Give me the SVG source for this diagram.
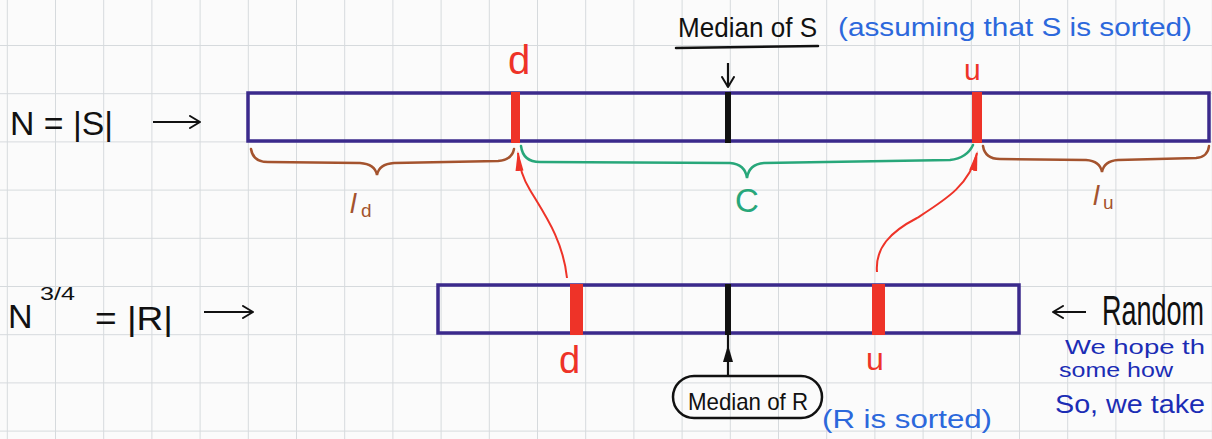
<svg xmlns="http://www.w3.org/2000/svg" width="1212" height="439" viewBox="0 0 1212 439">
<defs>
<pattern id="grid" x="6.8" y="-3.2" width="48.2" height="48.2" patternUnits="userSpaceOnUse">
<path d="M0,0 H48.2 M0,0 V48.2" fill="none" stroke="#d6dadd" stroke-width="2"/>
</pattern>
<marker id="redHead" markerWidth="20" markerHeight="10" refX="18" refY="4" orient="auto" markerUnits="userSpaceOnUse">
<path d="M0,0 L20,4 L0,8 Z" fill="#ee3328"/>
</marker>
<marker id="openHead" markerWidth="14" markerHeight="14" refX="11" refY="7" orient="auto" markerUnits="userSpaceOnUse">
<path d="M1,1 L11,7 L1,13" fill="none" stroke="#111" stroke-width="2" stroke-linecap="round" stroke-linejoin="round"/>
</marker>
</defs>
<style>
.arr{fill:none;stroke:#3b2a8c;stroke-width:3.5}
.red{fill:#ee3328}
.blk{fill:#111}
.txt{font-family:"Liberation Sans",Arial,sans-serif;fill:#111}
.rtxt{font-family:"Liberation Sans",Arial,sans-serif;fill:#ee3328}
.btxt{font-family:"Liberation Sans",Arial,sans-serif;fill:#2c68dc}
.ntxt{font-family:"Liberation Sans",Arial,sans-serif;fill:#1b2db5}
.brown{fill:none;stroke:#a4532e;stroke-width:2.5;stroke-linecap:round}
.green{fill:none;stroke:#28a77a;stroke-width:2.5;stroke-linecap:round}
.redline{fill:none;stroke:#ee3328;stroke-width:2;marker-end:url(#redHead)}
.bline{fill:none;stroke:#111;stroke-width:2.2}
</style>
<rect width="1212" height="439" fill="#fbfbfb"/>
<rect width="1212" height="439" fill="url(#grid)"/>

<g id="label-S" class="txt">
<text x="10" y="135" font-size="34" textLength="103" lengthAdjust="spacingAndGlyphs">N = |S|</text>
</g>
<g id="label-R" class="txt">
<text x="8" y="328" font-size="34">N</text>
<text x="40" y="300" font-size="18" textLength="35" lengthAdjust="spacingAndGlyphs">3/4</text>
<text x="95" y="330" font-size="34" textLength="78" lengthAdjust="spacingAndGlyphs">= |R|</text>
</g>

<g id="array-S">
<rect class="arr" x="248" y="93" width="961" height="48"/>
<rect class="red" x="511" y="92" width="9" height="51"/>
<rect class="blk" x="725" y="92" width="6" height="51"/>
<rect class="red" x="972" y="92" width="10" height="51"/>
<text class="rtxt" x="508" y="74" font-size="40">d</text>
<text class="rtxt" x="964" y="80" font-size="30">u</text>
</g>

<g id="median-S">
<text class="txt" x="678" y="37" font-size="28" textLength="139" lengthAdjust="spacingAndGlyphs">Median of S</text>
<line x1="676" y1="48" x2="818" y2="46" stroke="#111" stroke-width="2.5" stroke-linecap="round"/>
<text class="btxt" x="838" y="36" font-size="25" textLength="354" lengthAdjust="spacingAndGlyphs">(assuming that S is sorted)</text>
</g>

<g id="array-R">
<rect class="arr" x="438" y="285" width="581" height="48"/>
<rect class="red" x="570" y="284" width="13" height="51"/>
<rect class="blk" x="725" y="284" width="6" height="51"/>
<rect class="red" x="872" y="284" width="13" height="51"/>
<text class="rtxt" x="559" y="373" font-size="38">d</text>
<text class="rtxt" x="866" y="370" font-size="32">u</text>
</g>

<g id="median-R">
<rect x="673" y="376" width="149" height="42" rx="21" fill="none" stroke="#111" stroke-width="2.5"/>
<text class="txt" x="688" y="410" font-size="24" textLength="120" lengthAdjust="spacingAndGlyphs">Median of R</text>
<text class="btxt" x="822" y="428" font-size="26" textLength="170" lengthAdjust="spacingAndGlyphs">(R is sorted)</text>
</g>

<g id="brace-ld">
<path class="brown" d="M251,149 Q253,162 268,162 L360,163 Q375,164 377,175 Q379,164 394,163 L498,161 Q512,160 514,149"/>
<text x="350" y="213" font-size="28" font-style="italic" font-family="Liberation Sans,Arial,sans-serif" fill="#a4532e">l</text>
<text x="361" y="217" font-size="19" font-family="Liberation Sans,Arial,sans-serif" fill="#a4532e">d</text>
</g>

<g id="brace-c">
<path class="green" d="M521,146 Q523,162 540,162 L730,163 Q745,164 747,178 Q749,164 764,163 L950,160 Q967,158 973,145"/>
<text x="735" y="212" font-size="33" font-family="Liberation Sans,Arial,sans-serif" fill="#28a77a">C</text>
</g>

<g id="brace-lu">
<path class="brown" d="M983,146 Q985,159 1000,159 L1086,160 Q1100,161 1102,172 Q1104,161 1118,160 L1196,158 Q1208,157 1209,146"/>
<text x="1093" y="205" font-size="28" font-style="italic" font-family="Liberation Sans,Arial,sans-serif" fill="#a4532e">l</text>
<text x="1103" y="209" font-size="19" font-family="Liberation Sans,Arial,sans-serif" fill="#a4532e">u</text>
</g>

<g id="random-note">
<text class="txt" x="1102" y="203" font-size="27" transform="scale(1,1.6)">Random</text>
<text class="ntxt" x="1065" y="354" font-size="20" textLength="140" lengthAdjust="spacingAndGlyphs">We hope th</text>
<text class="ntxt" x="1059" y="377" font-size="20" textLength="114" lengthAdjust="spacingAndGlyphs">some how</text>
<text class="ntxt" x="1055" y="413" font-size="26" textLength="150" lengthAdjust="spacingAndGlyphs">So, we take</text>
</g>

<g id="connectors">
<line class="bline" x1="153" y1="122" x2="200" y2="122" marker-end="url(#openHead)"/>
<line class="bline" x1="204" y1="312" x2="253" y2="312" marker-end="url(#openHead)"/>
<line class="bline" x1="1086" y1="312" x2="1053" y2="312" marker-end="url(#openHead)"/>
<line class="bline" x1="728" y1="63" x2="728" y2="87" marker-end="url(#openHead)"/>
<line class="bline" x1="728" y1="376" x2="728" y2="335"/>
<path d="M728,345 L733,362 L723,362 Z" fill="#111"/>
<path class="redline" d="M567,278 C563,240 545,215 530,190 C522,177 519,165 518,153"/>
<path class="redline" d="M877,272 C875,248 890,232 917,218 C945,200 970,185 977,153"/>
</g>
</svg>
